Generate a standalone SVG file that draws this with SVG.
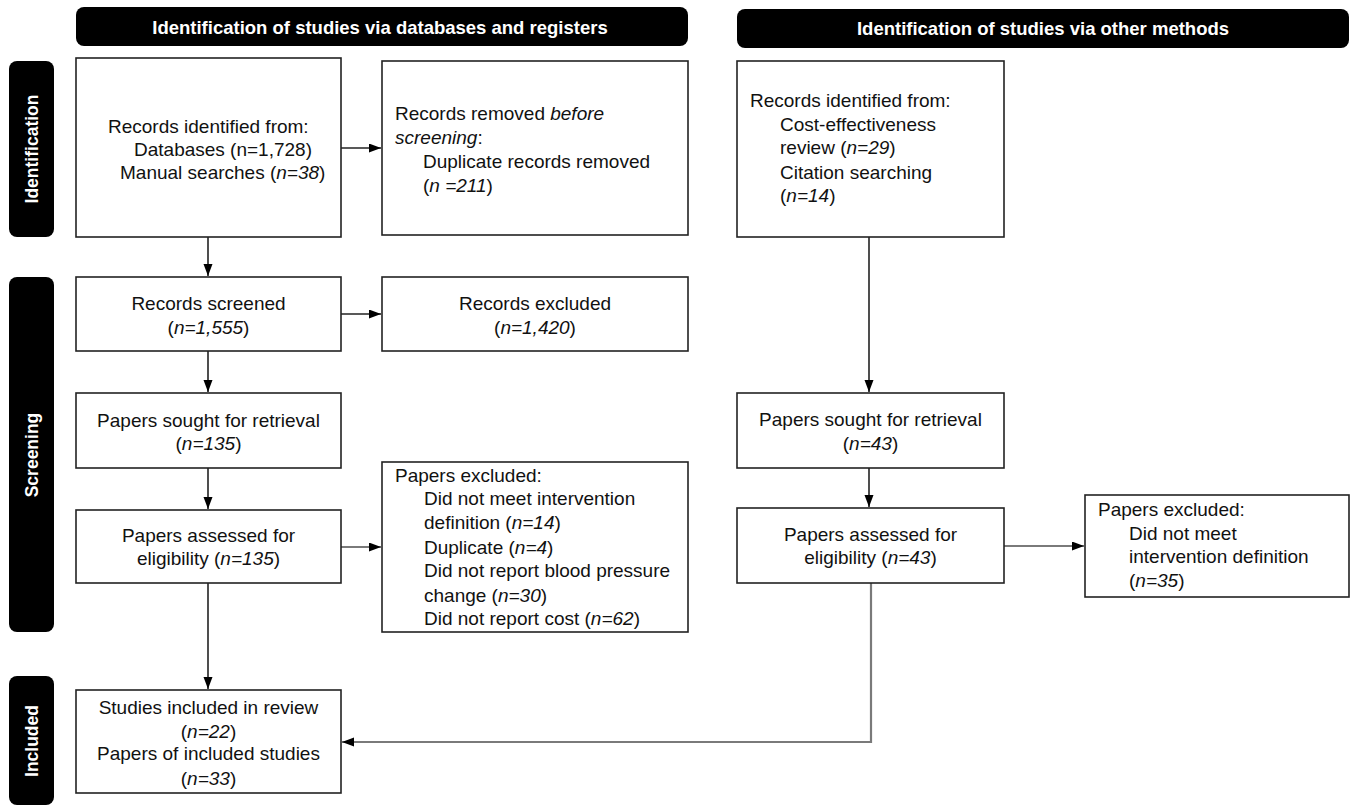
<svg xmlns="http://www.w3.org/2000/svg" width="1355" height="806" viewBox="0 0 1355 806">
<defs>
<marker id="ah" markerUnits="userSpaceOnUse" markerWidth="13" markerHeight="10" refX="12" refY="4.5" orient="auto">
<path d="M0,0 L12,4.5 L0,9 z" fill="#000"/>
</marker>
<style>
.bar{fill:#000}
.bt{fill:#fff;font-family:"Liberation Sans",Arial,sans-serif;font-weight:bold;font-size:18.5px;text-anchor:middle}
.st{fill:#fff;font-family:"Liberation Sans",Arial,sans-serif;font-weight:bold;font-size:17.5px;text-anchor:middle}
.box{fill:#fff;stroke:#222;stroke-width:1.6}
.t{fill:#111;font-family:"Liberation Sans",Arial,sans-serif;font-size:19px}
.c{text-anchor:middle}
.i{font-style:italic}
.ln{fill:none;stroke:#222;stroke-width:1.6}
.gl{fill:none;stroke:#7a7a7a;stroke-width:2.2}
</style>
</defs>
<rect width="1355" height="806" fill="#fff"/>

<g id="header-databases"><rect class="bar" x="76" y="7" width="612" height="39" rx="8"/><text class="bt" x="380" y="34">Identification of studies via databases and registers</text></g>
<g id="header-other"><rect class="bar" x="737" y="9" width="612" height="39" rx="8"/><text class="bt" x="1043" y="35">Identification of studies via other methods</text></g>

<g id="phase-identification"><rect class="bar" x="9" y="61" width="45" height="176" rx="8"/><text class="st" transform="translate(38,149) rotate(-90)">Identification</text></g>
<g id="phase-screening"><rect class="bar" x="9" y="277" width="45" height="355" rx="8"/><text class="st" transform="translate(38,455) rotate(-90)">Screening</text></g>
<g id="phase-included"><rect class="bar" x="9" y="676" width="45" height="129" rx="8"/><text class="st" transform="translate(38,741) rotate(-90)">Included</text></g>

<g id="connectors">
<line class="ln" x1="341" y1="148" x2="381" y2="148" marker-end="url(#ah)"/>
<line class="ln" x1="208" y1="237" x2="208" y2="276" marker-end="url(#ah)"/>
<line class="ln" x1="341" y1="314" x2="381" y2="314" marker-end="url(#ah)"/>
<line class="ln" x1="208" y1="351" x2="208" y2="392" marker-end="url(#ah)"/>
<line class="ln" x1="208" y1="468" x2="208" y2="509" marker-end="url(#ah)"/>
<line class="gl" x1="341" y1="547" x2="381" y2="547" marker-end="url(#ah)"/>
<line class="ln" x1="208" y1="583" x2="208" y2="689" marker-end="url(#ah)"/>
<line class="ln" x1="869" y1="237" x2="869" y2="392" marker-end="url(#ah)"/>
<line class="ln" x1="869" y1="468" x2="869" y2="507" marker-end="url(#ah)"/>
<line class="gl" x1="1004" y1="546" x2="1084" y2="546" marker-end="url(#ah)"/>
<polyline class="gl" points="871,583 871,742 342,742" marker-end="url(#ah)"/>
</g>

<g id="records-identified"><rect class="box" x="76" y="58" width="265" height="179"/>
<text class="t" x="108" y="133">Records identified from:</text>
<text class="t" x="134" y="156">Databases (n=1,728)</text>
<text class="t" x="120" y="179">Manual searches (<tspan class="i">n=38</tspan>)</text></g>

<g id="records-removed"><rect class="box" x="382" y="61" width="306" height="174"/>
<text class="t" x="395" y="120">Records removed <tspan class="i">before</tspan></text>
<text class="t" x="395" y="144"><tspan class="i">screening</tspan>:</text>
<text class="t" x="423" y="168">Duplicate records removed</text>
<text class="t" x="423" y="192">(<tspan class="i">n =211</tspan>)</text></g>

<g id="records-screened"><rect class="box" x="76" y="277" width="265" height="74"/>
<text class="t c" x="208.5" y="310">Records screened</text>
<text class="t c" x="208.5" y="334">(<tspan class="i">n=1,555</tspan>)</text></g>

<g id="records-excluded"><rect class="box" x="382" y="277" width="306" height="74"/>
<text class="t c" x="535" y="310">Records excluded</text>
<text class="t c" x="535" y="334">(<tspan class="i">n=1,420</tspan>)</text></g>

<g id="sought-db"><rect class="box" x="76" y="393" width="265" height="75"/>
<text class="t c" x="208.5" y="427">Papers sought for retrieval</text>
<text class="t c" x="208.5" y="450">(<tspan class="i">n=135</tspan>)</text></g>

<g id="assessed-db"><rect class="box" x="76" y="510" width="265" height="73"/>
<text class="t c" x="208.5" y="542">Papers assessed for</text>
<text class="t c" x="208.5" y="565">eligibility (<tspan class="i">n=135</tspan>)</text></g>

<g id="excluded-db"><rect class="box" x="382" y="462" width="306" height="170"/>
<text class="t" x="395" y="482">Papers excluded:</text>
<text class="t" x="424" y="505">Did not meet intervention</text>
<text class="t" x="424" y="529">definition (<tspan class="i">n=14</tspan>)</text>
<text class="t" x="424" y="554">Duplicate (<tspan class="i">n=4</tspan>)</text>
<text class="t" x="424" y="577">Did not report blood pressure</text>
<text class="t" x="424" y="602">change (<tspan class="i">n=30</tspan>)</text>
<text class="t" x="424" y="625">Did not report cost (<tspan class="i">n=62</tspan>)</text></g>

<g id="included"><rect class="box" x="76" y="690" width="265" height="103"/>
<text class="t c" x="208.5" y="714">Studies included in review</text>
<text class="t c" x="208.5" y="738">(<tspan class="i">n=22</tspan>)</text>
<text class="t c" x="208.5" y="760">Papers of included studies</text>
<text class="t c" x="208.5" y="785">(<tspan class="i">n=33</tspan>)</text></g>

<g id="records-other"><rect class="box" x="737" y="61" width="267" height="176"/>
<text class="t" x="750" y="107">Records identified from:</text>
<text class="t" x="780" y="131">Cost-effectiveness</text>
<text class="t" x="780" y="154">review (<tspan class="i">n=29</tspan>)</text>
<text class="t" x="780" y="179">Citation searching</text>
<text class="t" x="780" y="202">(<tspan class="i">n=14</tspan>)</text></g>

<g id="sought-other"><rect class="box" x="737" y="393" width="267" height="75"/>
<text class="t c" x="870.5" y="426">Papers sought for retrieval</text>
<text class="t c" x="870.5" y="450">(<tspan class="i">n=43</tspan>)</text></g>

<g id="assessed-other"><rect class="box" x="737" y="508" width="267" height="75"/>
<text class="t c" x="870.5" y="541">Papers assessed for</text>
<text class="t c" x="870.5" y="564">eligibility (<tspan class="i">n=43</tspan>)</text></g>

<g id="excluded-other"><rect class="box" x="1085" y="495" width="264" height="102"/>
<text class="t" x="1098" y="516">Papers excluded:</text>
<text class="t" x="1129" y="540">Did not meet</text>
<text class="t" x="1129" y="563">intervention definition</text>
<text class="t" x="1129" y="587">(<tspan class="i">n=35</tspan>)</text></g>
</svg>
